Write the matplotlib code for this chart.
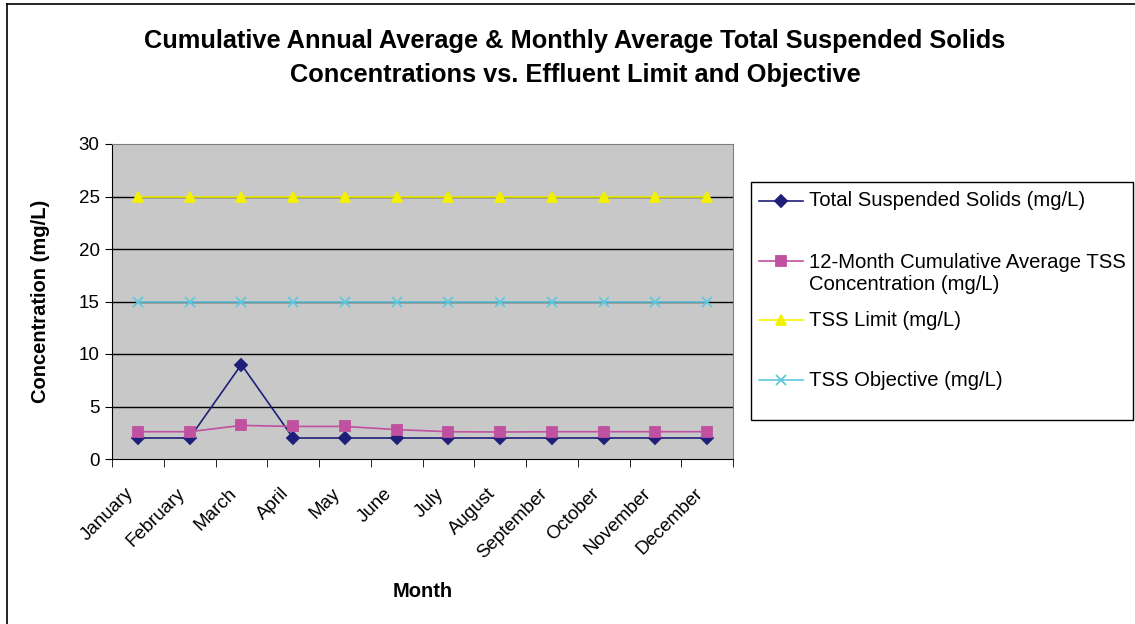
import matplotlib
matplotlib.use("Agg")
import matplotlib.pyplot as plt
import matplotlib.transforms as mtransforms
import numpy as np

# chart data
months = ["January", "February", "March", "April", "May", "June", "July",
          "August", "September", "October", "November", "December"]
tss = [2, 2, 9, 2, 2, 2, 2, 2, 2, 2, 2, 2]
cum_avg = [2.6, 2.6, 3.2, 3.1, 3.1, 2.8, 2.6, 2.57, 2.6, 2.6, 2.6, 2.6]
tss_limit = [25] * 12
tss_objective = [15] * 12

plt.rcParams['font.family'] = ['Liberation Sans', 'DejaVu Sans']

W, H = 1135, 624
fig = plt.figure(figsize=(W / 100, H / 100), dpi=100)
ax = fig.add_axes([112 / W, 1 - 459 / H, 621 / W, 315 / H])
ax.set_facecolor("#c8c8c8")

series = [
    (tss, "Total Suspended Solids (mg/L)", "#1f1f7a", "D", 6.5),
    (cum_avg, "12-Month Cumulative Average TSS\nConcentration (mg/L)", "#c050a0", "s", 6.5),
    (tss_limit, "TSS Limit (mg/L)", "#f2f200", "^", 7.5),
    (tss_objective, "TSS Objective (mg/L)", "#5fc8dc", "x", 7),
]

x = np.arange(len(months))
for vals, lab, col, mk, ms in series:
    ax.plot(x, vals, color=col, marker=mk, markersize=ms, mew=1.3, lw=1.2, label=lab)

ax.set_xlim(-0.5, 11.5)
ax.set_ylim(0, 30)
ax.set_yticks(range(0, 31, 5))
for yv in range(5, 30, 5):
    ax.axhline(yv, color="black", lw=1, zorder=0.5)

ax.set_xticks(x)
ax.set_xticklabels(months, rotation=45, ha="right", va="top",
                   rotation_mode="anchor", fontsize=13.5)
ax.tick_params(axis="x", which="major", length=0, pad=0)
offset = mtransforms.ScaledTranslation(-0.13, -0.26, fig.dpi_scale_trans)
for lbl in ax.get_xticklabels():
    lbl.set_transform(lbl.get_transform() + offset)
ax.set_xticks(np.arange(-0.5, 12, 1), minor=True)
ax.tick_params(axis="x", which="minor", length=6, direction="out")
ax.tick_params(axis="y", labelsize=13.5, length=5, pad=4)

for s in ["top", "right"]:
    ax.spines[s].set_color("#808080")
ax.spines["left"].set_color("black")
ax.spines["bottom"].set_color("black")

ax.set_xlabel("Month", fontsize=14.5, fontweight="bold")
ax.xaxis.set_label_coords(0.5, -0.39)
ax.set_ylabel("Concentration (mg/L)", fontsize=14.5, fontweight="bold")
ax.yaxis.set_label_coords(-0.1, 0.5)

# title, two lines
fig.text(575 / W, 1 - 41 / H,
         "Cumulative Annual Average & Monthly Average Total Suspended Solids",
         ha="center", va="center", fontsize=18.3, fontweight="bold")
fig.text(575 / W, 1 - 75 / H, "Concentrations vs. Effluent Limit and Objective",
         ha="center", va="center", fontsize=18.3, fontweight="bold")

# legend box (Excel style layout)
fig.add_artist(plt.Rectangle((751 / W, 1 - 420 / H), 382 / W, 238 / H,
                             transform=fig.transFigure, facecolor="white",
                             edgecolor="black", lw=1))
entry_y = [201, 261, 320, 380]
text_y = [201, 273.5, 320, 380]
for (vals, lab, col, mk, ms), ey, ty in zip(series, entry_y, text_y):
    fy = 1 - ey / H
    fig.add_artist(plt.Line2D([759 / W, 803 / W], [fy, fy], color=col, lw=1.2,
                              transform=fig.transFigure))
    fig.add_artist(plt.Line2D([781 / W], [fy], color=col, marker=mk, markersize=ms,
                              mew=1.3, transform=fig.transFigure))
    fig.text(809 / W, 1 - ty / H, lab, ha="left", va="center", fontsize=14.6,
             linespacing=1.25)

# figure frame
fig.add_artist(plt.Line2D([0.006, 0.006], [0.0, 0.994], color="black", lw=1.2,
                          transform=fig.transFigure))
fig.add_artist(plt.Line2D([0.006, 1.0], [0.994, 0.994], color="black", lw=1.2,
                          transform=fig.transFigure))

fig.savefig("out.png", dpi=100)
